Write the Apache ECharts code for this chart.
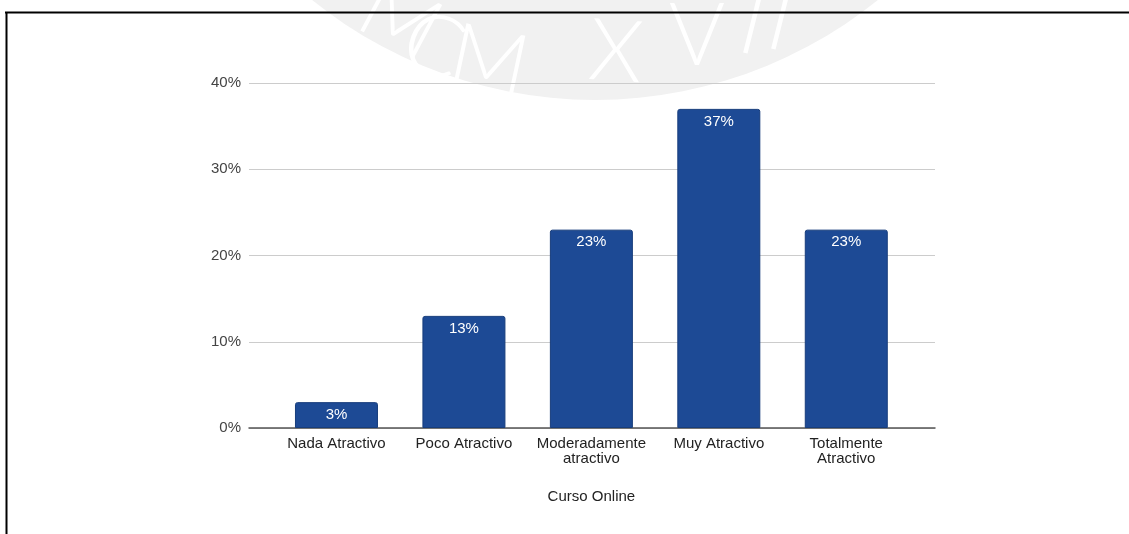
<!DOCTYPE html>
<html>
<head>
<meta charset="utf-8">
<script src="https://cdn.jsdelivr.net/npm/echarts@6/dist/echarts.min.js"></script>
<style>
  html, body { margin: 0; padding: 0; background: #ffffff; }
  #chart { width: 1129px; height: 534px; }
</style>
</head>
<body>
<div id="chart"></div>
<script>
// Categories and shares (%) for the "Curso Online" question
const categories = ['Nada Atractivo', 'Poco Atractivo', 'Moderadamente\natractivo', 'Muy Atractivo', 'Totalmente\nAtractivo'];
const shares = [3, 13, 23, 37, 23];
const yTicks = [0, 10, 20, 30, 40];
const axisTitle = 'Curso Online';
const sealText = ['M', 'C', 'M', 'X', 'V', 'I', 'I'];

const FONT = '"Liberation Sans", Arial, sans-serif';
const chart = echarts.init(document.getElementById('chart'), null, { renderer: 'canvas' });

// Faint seal in the background: grey disc with white lettering along its lower rim
const sealGraphics = [{
  type: 'circle',
  shape: { cx: 595, cy: -350, r: 450 },
  style: { fill: '#f1f1f1' },
  silent: true,
  z: -10
}];
const letterPlaces = [
  [400, 20, -28], [433, 47, -20], [489, 62, -12], [616, 53, -4],
  [697, 37, 0], [752, 26, -14], [780, 22, -14]
];
sealText.forEach((ch, i) => {
  const [x, y, deg] = letterPlaces[i];
  sealGraphics.push({
    type: 'text',
    x: x, y: y,
    rotation: -deg * Math.PI / 180 * -1,
    style: {
      text: ch,
      font: '300 86px Lato, "Open Sans", sans-serif',
      fill: '#ffffff',
      align: 'center',
      verticalAlign: 'middle'
    },
    silent: true,
    z: -9
  });
});

// Page frame lines (top and left)
const frameGraphics = [
  { type: 'line', shape: { x1: 5, y1: 12.5, x2: 1129, y2: 12.5 }, style: { stroke: '#000', lineWidth: 2 }, silent: true, z: 50 },
  { type: 'line', shape: { x1: 6.5, y1: 12, x2: 6.5, y2: 534 }, style: { stroke: '#000', lineWidth: 2 }, silent: true, z: 50 }
];

chart.setOption({
  animation: false,
  backgroundColor: '#ffffff',
  textStyle: { fontFamily: FONT },
  graphic: sealGraphics.concat(frameGraphics),
  grid: [
    // full-width plot area carrying the gridlines and baseline
    { left: 249, right: 194, top: 83, bottom: 106 },
    // inset area for the category bands
    { left: 272.75, right: 219, top: 83, bottom: 106 }
  ],
  xAxis: [
    {
      gridIndex: 0, type: 'value', min: 0, max: 1,
      axisLine: { show: true, lineStyle: { color: '#555', width: 1.5 } },
      axisTick: { show: false }, axisLabel: { show: false }, splitLine: { show: false }
    },
    {
      gridIndex: 1, type: 'category', data: categories,
      axisLine: { show: false }, axisTick: { show: false },
      axisLabel: { color: '#222', fontSize: 15, fontFamily: FONT, margin: 8, lineHeight: 15, interval: 0 },
      name: axisTitle, nameLocation: 'middle', nameGap: 61,
      nameTextStyle: { color: '#222', fontSize: 15, fontFamily: FONT }
    }
  ],
  yAxis: [
    {
      gridIndex: 0, type: 'value', min: yTicks[0], max: yTicks[yTicks.length - 1], interval: 10,
      axisLine: { show: false }, axisTick: { show: false },
      axisLabel: { color: '#444', fontSize: 15, fontFamily: FONT, margin: 8, formatter: '{value}%' },
      splitLine: { lineStyle: { color: '#cccccc', width: 1 } }
    },
    {
      gridIndex: 1, type: 'value', min: yTicks[0], max: yTicks[yTicks.length - 1], interval: 10,
      show: false, splitLine: { show: false }
    }
  ],
  series: [{
    type: 'bar',
    xAxisIndex: 1, yAxisIndex: 1,
    data: shares,
    barWidth: 83,
    itemStyle: { color: '#1d4a95', borderColor: '#173d7c', borderWidth: 1, borderRadius: [2, 2, 0, 0] },
    label: {
      show: true, position: 'insideTop', distance: 5,
      color: '#ffffff', fontSize: 15, fontFamily: FONT,
      formatter: p => Math.round(p.value) + '%'
    },
    z: 5
  }]
});
</script>
</body>
</html>
